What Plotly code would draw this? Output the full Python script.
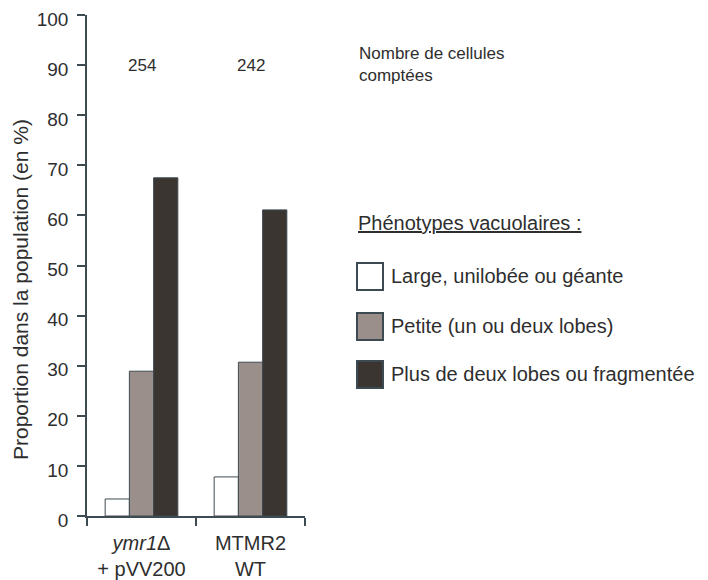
import plotly.graph_objects as go

categories = ["<i>ymr1</i>Δ<br>+ pVV200", "MTMR2<br>WT"]
series_names = ["Large, unilobée ou géante", "Petite (un ou deux lobes)", "Plus de deux lobes ou fragmentée"]
large_vals = [3.4, 7.8]
petite_vals = [28.9, 30.7]
plus_vals = [67.5, 61.1]
cell_counts = ["254", "242"]
y_ticks = [0, 10, 20, 30, 40, 50, 60, 70, 80, 90, 100]

colors = ["#ffffff", "#9b8f8b", "#3b3531"]
edge = "#3e4a52"
txt = "#2e2e2e"
FONT = "Liberation Sans, Arial, sans-serif"

# page body has an 8px default margin; layout numbers below are in screen pixels
OFF = 8
W, H = 708 - OFF, 580 - OFF
L, T = 87 - OFF, 15 - OFF
R = W - (305 - OFF)
B = H - (516 - OFF)
pw = W - L - R
ph = H - T - B

def px(x):
    return (x - OFF - L) / pw

def py(y):
    return (H - B - (y - OFF)) / ph

fig = go.Figure()
for name, vals, c in zip(series_names, [large_vals, petite_vals, plus_vals], colors):
    fig.add_trace(go.Bar(x=categories, y=vals, name=name,
                         marker=dict(color=c, line=dict(color=edge, width=1)),
                         showlegend=False))

annotations = []
for cat, n in zip(categories, cell_counts):
    annotations.append(dict(x=cat, y=90, xref="x", yref="y", text=n, showarrow=False,
                            font=dict(size=17, color=txt, family=FONT)))

annotations.append(dict(x=px(357), y=py(64), xref="paper", yref="paper", xanchor="left", yanchor="middle",
                        text="Nombre de cellules<br>comptées", align="left", showarrow=False,
                        font=dict(size=17, color=txt, family=FONT)))
annotations.append(dict(x=px(20), y=py(290), xref="paper", yref="paper", xanchor="center", yanchor="middle",
                        text="Proportion dans la population (en %)", textangle=-90, showarrow=False,
                        font=dict(size=21, color=txt, family=FONT)))
annotations.append(dict(x=px(356), y=py(223), xref="paper", yref="paper", xanchor="left", yanchor="middle",
                        text="<u>Phénotypes vacuolaires :</u>", showarrow=False,
                        font=dict(size=20, color=txt, family=FONT)))

shapes = []
box_tops = [263, 313, 361]
for name, c, top in zip(series_names, colors, box_tops):
    shapes.append(dict(type="rect", xref="paper", yref="paper",
                       x0=px(357), x1=px(383), y0=py(top + 27), y1=py(top),
                       fillcolor=c, line=dict(color=edge, width=2)))
    annotations.append(dict(x=px(389), y=py(top + 13), xref="paper", yref="paper", xanchor="left",
                            yanchor="middle", text=name, showarrow=False,
                            font=dict(size=20, color=txt, family=FONT)))

fig.update_layout(
    width=W, height=H,
    margin=dict(l=L, r=R, t=T, b=B, pad=0),
    paper_bgcolor="white", plot_bgcolor="white",
    barmode="group", bargap=1/3, bargroupgap=0,
    font=dict(family=FONT, color=txt),
    annotations=annotations, shapes=shapes,
    xaxis=dict(showline=True, linecolor=edge, linewidth=1.5, ticks="outside", tickson="boundaries",
               ticklen=8, tickcolor=edge, tickwidth=1.5, showgrid=False, automargin=False,
               ticklabelstandoff=8, ticklabeloverflow="allow",
               tickfont=dict(size=20, color=txt, family=FONT)),
    yaxis=dict(range=[0, 100], tickvals=y_ticks, showline=True, linecolor=edge, linewidth=1.5,
               ticks="outside", ticklen=8, tickcolor=edge, tickwidth=1.5, showgrid=False,
               zeroline=False, automargin=False, ticklabelstandoff=5, ticklabelshift=4,
               ticklabeloverflow="allow",
               tickfont=dict(size=19, color=txt, family=FONT)),
)

fig.write_html("out.html")
